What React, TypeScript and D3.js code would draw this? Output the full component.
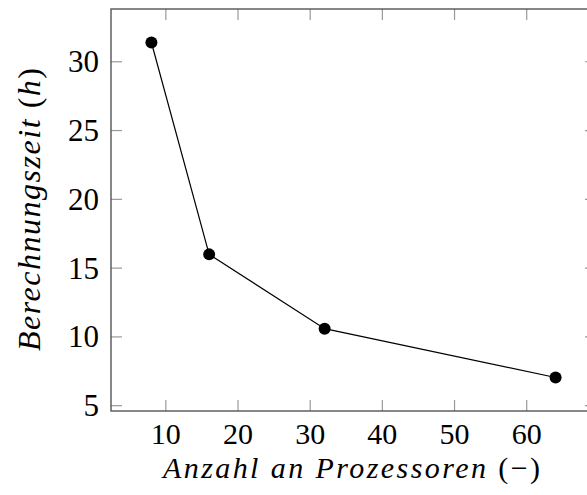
import React from "react";
import * as d3 from "d3";

const processors = [8, 16, 32, 64];
const hours = [31.4, 16.0, 10.6, 7.05];
const xTicks = [10, 20, 30, 40, 50, 60];
const yTicks = [5, 10, 15, 20, 25, 30];

const W = 587;
const H = 495;
const left = 111;
const right = 596;
const top = 9;
const bottom = 411;

export default function App() {
  const xr = d3.extent(processors) as [number, number];
  const yr = d3.extent(hours) as [number, number];
  const xe = (xr[1] - xr[0]) * 0.1;
  const ye = (yr[1] - yr[0]) * 0.1;
  const x = d3.scaleLinear().domain([xr[0] - xe, xr[1] + xe]).range([left, right]);
  const y = d3.scaleLinear().domain([yr[0] - ye, yr[1] + ye]).range([bottom, top]);
  const line = d3
    .line<number>()
    .x((_, i) => x(processors[i]))
    .y((d) => y(d));
  const tickLen = 11;
  const font = "'Liberation Serif', serif";
  const axisColor = "#555";
  const tickColor = "#999";
  return (
    <svg
      width={W}
      height={H}
      style={{ position: "absolute", left: 0, top: 0, background: "#fff" }}
      fontFamily={font}
    >
      {xTicks.map((t) => (
        <g key={"x" + t}>
          <line x1={x(t)} x2={x(t)} y1={bottom} y2={bottom - tickLen} stroke={tickColor} strokeWidth={1.2} />
          <line x1={x(t)} x2={x(t)} y1={top} y2={top + tickLen} stroke={tickColor} strokeWidth={1.2} />
          <text x={x(t)} y={444} fontSize={30} textAnchor="middle" fill="#000">
            {t}
          </text>
        </g>
      ))}
      {yTicks.map((t) => (
        <g key={"y" + t}>
          <line x1={left} x2={left + tickLen} y1={y(t)} y2={y(t)} stroke={tickColor} strokeWidth={1.2} />
          <line x1={right} x2={right - tickLen} y1={y(t)} y2={y(t)} stroke={tickColor} strokeWidth={1.2} />
          <text x={99} y={y(t) + 10.5} fontSize={31} textAnchor="end" fill="#000">
            {t}
          </text>
        </g>
      ))}
      <rect x={left} y={top} width={right - left} height={bottom - top} fill="none" stroke={axisColor} strokeWidth={1.4} />
      <path d={line(hours) || ""} fill="none" stroke="#000" strokeWidth={1.2} />
      {hours.map((h, i) => (
        <circle key={i} cx={x(processors[i])} cy={y(h)} r={6} fill="#000" />
      ))}
      <text x={163} y={478} fontSize={30} textLength={377} lengthAdjust="spacing" fill="#000">
        <tspan fontStyle="italic">Anzahl an Prozessoren </tspan>
        <tspan>(−)</tspan>
      </text>
      <text
        transform={`translate(40, 351) rotate(-90)`}
        fontSize={32}
        textLength={283}
        lengthAdjust="spacing"
        fill="#000"
      >
        <tspan fontStyle="italic">Berechnungszeit </tspan>
        <tspan>(</tspan>
        <tspan fontStyle="italic">h</tspan>
        <tspan>)</tspan>
      </text>
    </svg>
  );
}
